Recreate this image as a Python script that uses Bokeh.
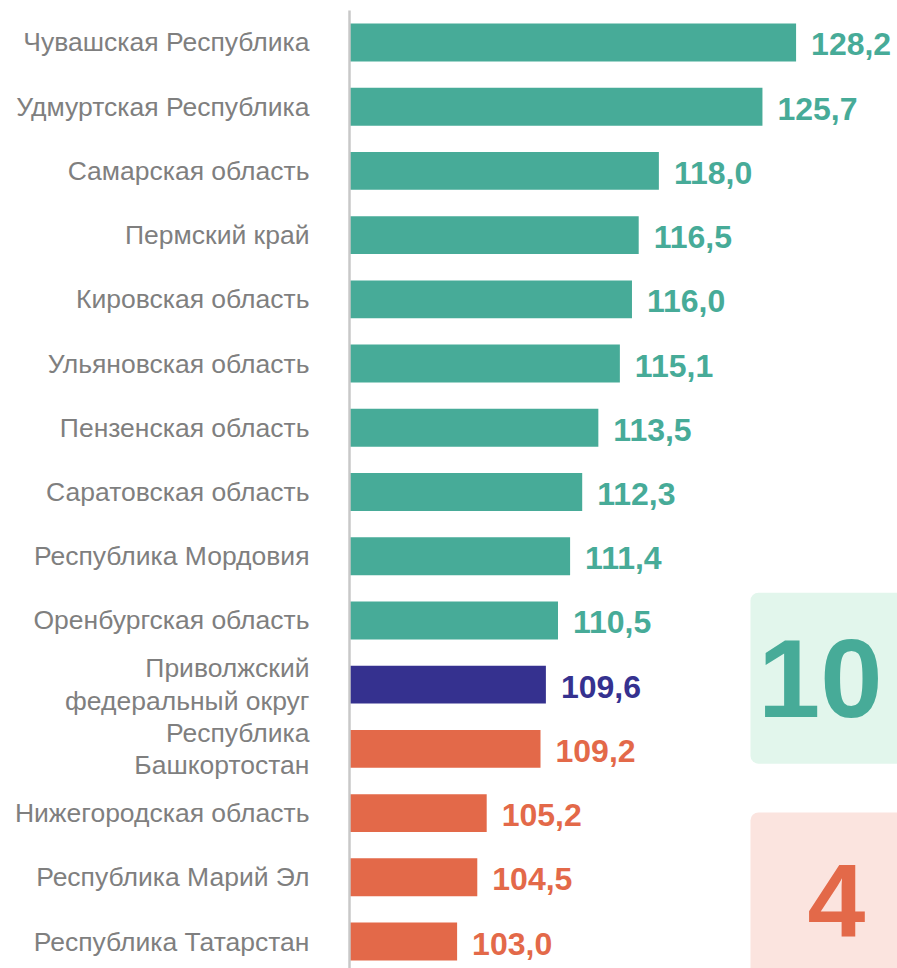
from bokeh.plotting import figure
from bokeh.models import ColumnDataSource, Range1d, FixedTicker, BoxAnnotation
from bokeh.core.properties import value
from bokeh.embed import file_html
from bokeh.resources import INLINE

categories = [
    "Чувашская Республика",
    "Удмуртская Республика",
    "Самарская область",
    "Пермский край",
    "Кировская область",
    "Ульяновская область",
    "Пензенская область",
    "Саратовская область",
    "Республика Мордовия",
    "Оренбургская область",
    "Приволжский\nфедеральный округ",
    "Республика\nБашкортостан",
    "Нижегородская область",
    "Республика Марий Эл",
    "Республика Татарстан",
]
values = [128.2, 125.7, 118.0, 116.5, 116.0, 115.1, 113.5, 112.3, 111.4, 110.5,
          109.6, 109.2, 105.2, 104.5, 103.0]
count_above = "10"
count_below = "4"

TEAL = "#47AB98"
NAVY = "#35318F"
ORANGE = "#E36949"
LABEL_GREY = "#7F7F7F"
FONT = "Liberation Sans"

colors = [TEAL] * 10 + [NAVY] + [ORANGE] * 4
positions = list(range(len(categories)))
labels = [f"{v:.1f}".replace(".", ",") for v in values]

X0 = 95.0
src = ColumnDataSource(dict(y=positions, v=values, left=[X0] * len(values),
                            c=colors, lab=labels))

p = figure(width=897, height=968, output_backend="svg", toolbar_location=None,
           x_range=Range1d(X0, 135.74), y_range=Range1d(14.42, -0.498),
           x_axis_type=None, min_border_left=349, min_border_top=10,
           min_border_bottom=0, min_border_right=0)
p.outline_line_color = None
p.xgrid.visible = False
p.ygrid.visible = False
p.background_fill_color = "white"
p.border_fill_color = "white"

# summary boxes
p.add_layout(BoxAnnotation(left=124.81, right=140, top=8.567, bottom=11.23,
                           fill_color="#E2F6EC", fill_alpha=1, line_color=None,
                           border_radius=8, level="underlay"))
p.add_layout(BoxAnnotation(left=124.81, right=140, top=11.99, bottom=15,
                           fill_color="#FBE4DF", fill_alpha=1, line_color=None,
                           border_radius=8, level="underlay"))

p.hbar(y="y", left="left", right="v", height=0.59, source=src,
       fill_color="c", line_color=None)
p.text(x="v", y="y", text="lab", source=src, text_color="c",
       text_font=value(FONT), text_font_style="bold", text_font_size="32px",
       text_baseline="middle", text_align="left", x_offset=15, y_offset=2)

p.text(x=[130.0], y=[9.94], text=[count_above], text_color=TEAL,
       text_font=value(FONT), text_font_style="bold", text_font_size="112px",
       text_baseline="middle", text_align="center", y_offset=-2)
p.text(x=[131.2], y=[13.4], text=[count_below], text_color=ORANGE,
       text_font=value(FONT), text_font_style="bold", text_font_size="104px",
       text_baseline="middle", text_align="center", y_offset=-2)

ax = p.yaxis[0]
ax.ticker = FixedTicker(ticks=positions)
ax.major_label_overrides = {i: c for i, c in zip(positions, categories)}
ax.major_label_text_font = FONT
ax.major_label_text_font_size = "26.5px"
ax.major_label_text_line_height = 1.09
ax.major_label_text_color = LABEL_GREY
ax.major_label_standoff = 40
ax.major_tick_line_color = None
ax.major_tick_out = 0
ax.major_tick_in = 0
ax.minor_tick_line_color = None
ax.axis_line_color = "#C8C8C8"
ax.axis_line_width = 2.5

open("out.html", "w").write(file_html(p, INLINE))
